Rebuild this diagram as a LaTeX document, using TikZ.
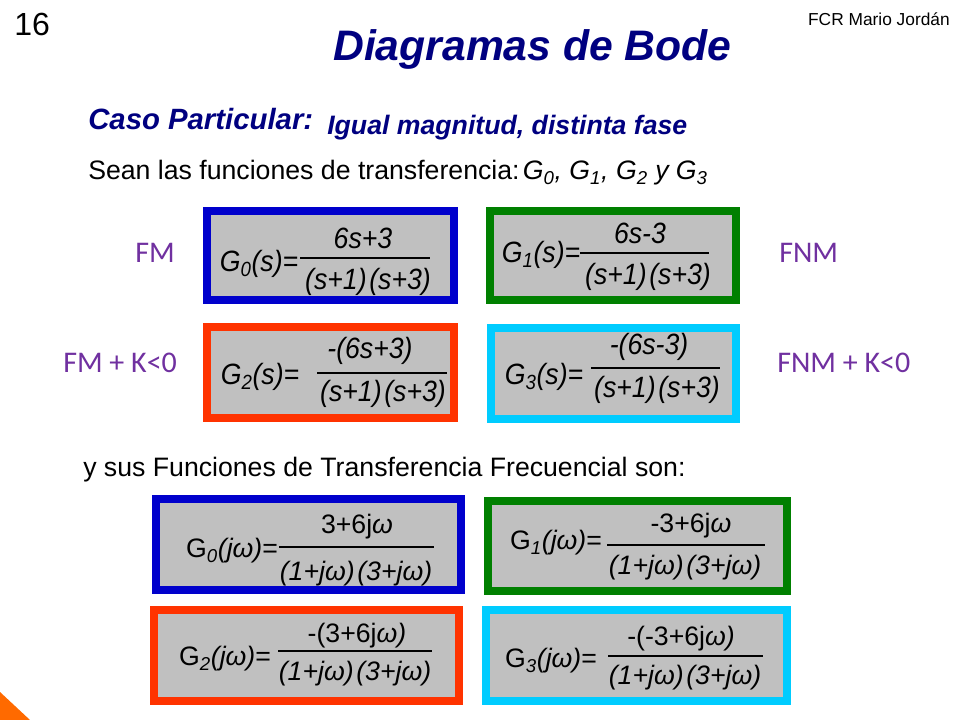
\documentclass[tikz,border=0pt]{standalone}
\usepackage{fontspec}
\setmainfont{Liberation Sans}
\newfontfamily\calfont{Carlito}
\definecolor{navy}{RGB}{0,0,128}
\definecolor{fmpurple}{RGB}{112,48,160}
\definecolor{bxblue}{RGB}{0,0,204}
\definecolor{bxgreen}{RGB}{0,128,0}
\definecolor{bxorange}{RGB}{255,51,0}
\definecolor{bxcyan}{RGB}{0,204,255}
\definecolor{bxgray}{RGB}{192,192,192}
\definecolor{cornerorange}{RGB}{255,106,0}
\newcommand\vstr[1]{\scalebox{1}[1.1]{#1}}
\begin{document}
\begin{tikzpicture}[x=0.75pt,y=-0.75pt,
  bx/.style={draw=#1, line width=6pt, fill=bxgray, inner sep=0pt},
  sz/.style n args={2}{minimum width={#1*0.75pt}, minimum height={#2*0.75pt}},
  eq/.style={inner sep=0pt, font=\fontsize{20}{24}\selectfont\itshape},
  fl/.style={line width=1.5pt},
  lbl/.style={inner sep=0pt, anchor=base west, text=fmpurple, font=\calfont\fontsize{22.5}{26}\selectfont},
  txt/.style={inner sep=0pt, anchor=base west, font=\fontsize{20}{24}\selectfont}]
\useasboundingbox (0,0) rectangle (960,720);
\fill[white] (0,0) rectangle (960,720);
\fill[cornerorange] (0,692) -- (30,720) -- (0,720) -- cycle;

% header
\node[inner sep=0pt, anchor=base west, font=\fontsize{24}{28}\selectfont] (num) at (14,36) {16};
\node[inner sep=0pt, anchor=base east, font=\fontsize{13}{15}\selectfont] (auth) at (950,26) {FCR Mario Jordán};
\node[inner sep=0pt, anchor=base west, text=navy, font=\fontsize{32}{38}\selectfont\bfseries\itshape] (title) at (333,61) {Diagramas de Bode};
\node[inner sep=0pt, anchor=base west, text=navy, font=\fontsize{22}{26}\selectfont\bfseries\itshape] (caso) at (88,130) {Caso Particular:};
\node[inner sep=0pt, anchor=base west, text=navy, font=\fontsize{20}{24}\selectfont\bfseries\itshape] (igual) at (327,135) {Igual magnitud, distinta fase};
\node[txt] (sean) at (88,180) {Sean las funciones de transferencia:\hspace{0.12em}\textit{G\textsubscript{0}, G\textsubscript{1}, G\textsubscript{2} y G\textsubscript{3}}};
\node[txt] (ysus) at (83,476) {y sus Funciones de Transferencia Frecuencial son:};

% side labels
\node[lbl] (fm) at (135,263) {FM};
\node[lbl] (fnm) at (779,263) {FNM};
\node[lbl] (fmk) at (63,372) {FM + K<0};
\node[lbl] (fnmk) at (777,372) {FNM + K<0};

% boxes
\node[bx=bxblue, sz={247}{89}] (b0s) at (330.5,255.5) {};
\node[bx=bxgreen, sz={246}{89}] (b1s) at (613,255.5) {};
\node[bx=bxorange, sz={247}{91}] (b2s) at (330.5,372.5) {};
\node[bx=bxcyan, sz={245}{91}] (b3s) at (613.5,373.5) {};
\node[bx=bxblue, sz={305}{91}] (b0j) at (308.5,544.5) {};
\node[bx=bxgreen, sz={299}{90}] (b1j) at (637.5,546) {};
\node[bx=bxorange, sz={305}{91}] (b2j) at (306.5,655.5) {};
\node[bx=bxcyan, sz={301}{91}] (b3j) at (636.5,655.5) {};

% G0(s)
\node[eq] (g0s) at (259,264) {\vstr{G\textsubscript{0}(s)=}};
\node[eq] (g0sn) at (363,238) {\vstr{6s+3}};
\draw[fl] (300,258) -- (430,258);
\node[eq] (g0sd) at (368,282) {\vstr{(s+1)\kern2pt(s+3)}};
% G1(s)
\node[eq] (g1s) at (541,255) {\vstr{G\textsubscript{1}(s)=}};
\node[eq] (g1sn) at (640,233) {\vstr{6s-3}};
\draw[fl] (580,253) -- (709,253);
\node[eq] (g1sd) at (648,277) {\vstr{(s+1)\kern2pt(s+3)}};
% G2(s)
\node[eq] (g2s) at (260,377) {\vstr{G\textsubscript{2}(s)=}};
\node[eq] (g2sn) at (370,351) {\vstr{-(6s+3)}};
\draw[fl] (317,373) -- (447,373);
\node[eq] (g2sd) at (383,394) {\vstr{(s+1)\kern2pt(s+3)}};
% G3(s)
\node[eq] (g3s) at (544,377) {\vstr{G\textsubscript{3}(s)=}};
\node[eq] (g3sn) at (649,347) {\vstr{-(6s-3)}};
\draw[fl] (591,368) -- (720,368);
\node[eq] (g3sd) at (657,390) {\vstr{(s+1)\kern2pt(s+3)}};

% G0(jw)
\node[eq] (g0j) at (232,551) {\textup{G}\textsubscript{0}(jω)\textup{=}};
\node[eq] (g0jn) at (357,527) {\textup{3+6j}ω};
\draw[fl] (279,547) -- (434,547);
\node[eq] (g0jd) at (356,574) {(1+jω)\kern2pt(3+jω)};
% G1(jw)
\node[eq] (g1j) at (556,543) {\textup{G}\textsubscript{1}(jω)\textup{=}};
\node[eq] (g1jn) at (691,526) {\textup{-3+6j}ω};
\draw[fl] (607,545) -- (765,545);
\node[eq] (g1jd) at (685,568) {(1+jω)\kern2pt(3+jω)};
% G2(jw)
\node[eq] (g2j) at (225,659) {\textup{G}\textsubscript{2}(jω)\textup{=}};
\node[eq] (g2jn) at (357,636) {\textup{-(3+6j}ω)};
\draw[fl] (278,651) -- (432,651);
\node[eq] (g2jd) at (355,674) {(1+jω)\kern2pt(3+jω)};
% G3(jw)
\node[eq] (g3j) at (551,661) {\textup{G}\textsubscript{3}(jω)\textup{=}};
\node[eq] (g3jn) at (681,639) {\textup{-(-3+6j}ω)};
\draw[fl] (608,656) -- (763,656);
\node[eq] (g3jd) at (685,678) {(1+jω)\kern2pt(3+jω)};
\end{tikzpicture}
\end{document}
